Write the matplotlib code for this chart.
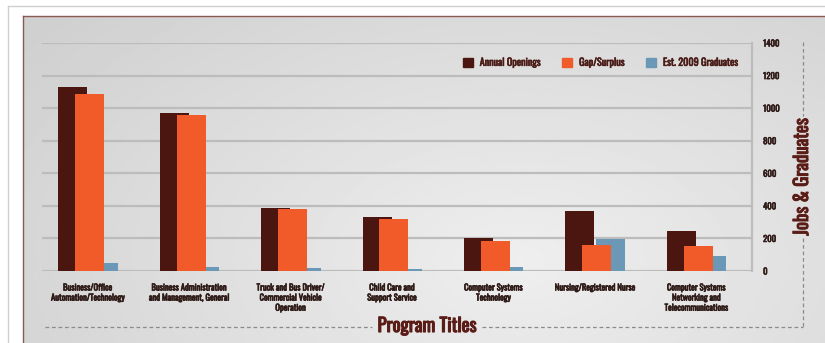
import matplotlib.pyplot as plt
import numpy as np
from matplotlib.patches import Rectangle
from matplotlib.lines import Line2D
import matplotlib.patheffects as pe

# data
programs = ["Business/Office\nAutomation/Technology",
            "Business Administration\nand Management, General",
            "Truck and Bus Driver/\nCommercial Vehicle\nOperation",
            "Child Care and\nSupport Service",
            "Computer Systems\nTechnology",
            "Nursing/Registered Nurse",
            "Computer Systems\nNetworking and\nTelecommunications"]
annual_openings = [1131, 972, 387, 330, 205, 368, 246]
gap_surplus = [1085, 956, 379, 317, 186, 161, 152]
graduates_2009 = [47, 26, 20, 10, 22, 198, 92]
y_ticks = [0, 200, 400, 600, 800, 1000, 1200, 1400]

c_open = "#4b1610"
c_gap = "#f15a29"
c_grad = "#6b98b6"
c_text = "#2e1a16"
c_title = "#5a1c16"

fontname = ["Oswald", "Barlow Condensed", "DejaVu Sans"]


def bolder(color, w=0.45):
    return [pe.withStroke(linewidth=w, foreground=color)]


W, H = 825, 343
fig = plt.figure(figsize=(W / 100, H / 100), dpi=100)
fig.patch.set_facecolor("white")

# outer page lines
fig.add_artist(Line2D([8 / W, 1], [1 - 6 / H, 1 - 6 / H], color="#cfcfcf", lw=1))
fig.add_artist(Line2D([8 / W, 8 / W], [0, 1 - 6 / H], color="#cfcfcf", lw=1))

# gray gradient panel
bg = fig.add_axes([23 / W, 0, 1 - 23 / W, 1 - 16 / H])
yy, xx = np.mgrid[0:1:200j, 0:1:400j]
dist = np.sqrt(((xx - 0.62) * 1.3) ** 2 + ((yy - 0.75) * 0.9) ** 2)
shade = 0.935 - 0.12 * np.clip(dist, 0, 1)
bg.imshow(shade, cmap="gray", vmin=0, vmax=1, aspect="auto", extent=[0, 1, 0, 1],
          interpolation="bilinear")
bg.set_xlim(0, 1)
bg.set_ylim(0, 1)
bg.axis("off")
fig.add_artist(Line2D([23 / W, 1], [1 - 16 / H, 1 - 16 / H], color="#8a5a52", lw=1))
fig.add_artist(Line2D([23 / W, 23 / W], [0, 1 - 16 / H], color="#8a5a52", lw=1))

# main chart
ax = fig.add_axes([42 / W, (H - 271) / H, (752 - 42) / W, (271 - 43) / H])
ax.set_facecolor("none")
x = np.arange(len(programs))
bw = 0.286
left = -0.29
ax.bar(x + left, annual_openings, width=bw, align="edge", color=c_open, zorder=3)
ax.bar(x + left + 0.30, graduates_2009, width=bw, align="edge", color=c_grad, zorder=3)
ax.bar(x + left + 0.167, gap_surplus, width=bw, align="edge", color=c_gap, zorder=4)

ax.set_xlim(-0.45, 6.55)
ax.set_ylim(0, 1400)
for t in y_ticks:
    ax.axhline(t, color="#bcbcbd", lw=1.6, zorder=1)
ax.axvline(6.55, color="#bcbcbd", lw=1.6, zorder=1, clip_on=False)

for s in ax.spines.values():
    s.set_visible(False)
ax.yaxis.tick_right()
ax.set_yticks(y_ticks)
ax.set_yticklabels([str(t) for t in y_ticks], family=fontname, weight="bold",
                   fontsize=6.2, color=c_text)
ax.tick_params(axis="y", length=0, pad=8)
ax.set_xticks(x)
ax.set_xticklabels(programs, family=fontname, weight="bold", fontsize=6.2,
                   color=c_text, linespacing=1.3, va="top")
ax.tick_params(axis="x", length=0, pad=9)
for lab in ax.get_xticklabels() + ax.get_yticklabels():
    lab.set_path_effects(bolder(c_text))

# legend
handles = [Rectangle((0, 0), 1, 1, color=c) for c in (c_open, c_gap, c_grad)]
leg = ax.legend(handles, ["Annual Openings", "Gap/Surplus", "Est. 2009 Graduates"],
                loc="upper right", ncol=3, frameon=False, bbox_to_anchor=(0.993, 0.975),
                handlelength=0.95, handleheight=0.95, columnspacing=2.2, handletextpad=0.7,
                prop={"family": fontname, "weight": "bold", "size": 7.3})
for t in leg.get_texts():
    t.set_color("#4a1c17")
    t.set_path_effects(bolder("#4a1c17"))

# axis titles with dashed guides
fig.text(802 / W, 1 - 177 / H, "Jobs & Graduates", rotation=90, ha="center", va="center",
         family=fontname, weight="bold", fontsize=13.5, color=c_title,
         path_effects=bolder(c_title, 0.7))
fig.text(427 / W, 1 - 326 / H, "Program Titles", ha="center", va="center",
         family=fontname, weight="bold", fontsize=13.5, color=c_title,
         path_effects=bolder(c_title, 0.8))
dash = dict(color="#8e8a8a", lw=0.9, ls=(0, (3, 2.2)))
fig.add_artist(Line2D([803 / W, 803 / W], [1 - 42 / H, 1 - 116 / H], **dash))
fig.add_artist(Line2D([803 / W, 803 / W], [1 - 238 / H, 1 - 327 / H], **dash))
fig.add_artist(Line2D([482 / W, 803 / W], [1 - 327 / H, 1 - 327 / H], **dash))
fig.add_artist(Line2D([45 / W, 372 / W], [1 - 327 / H, 1 - 327 / H], **dash))

plt.savefig("out.png", dpi=100)
